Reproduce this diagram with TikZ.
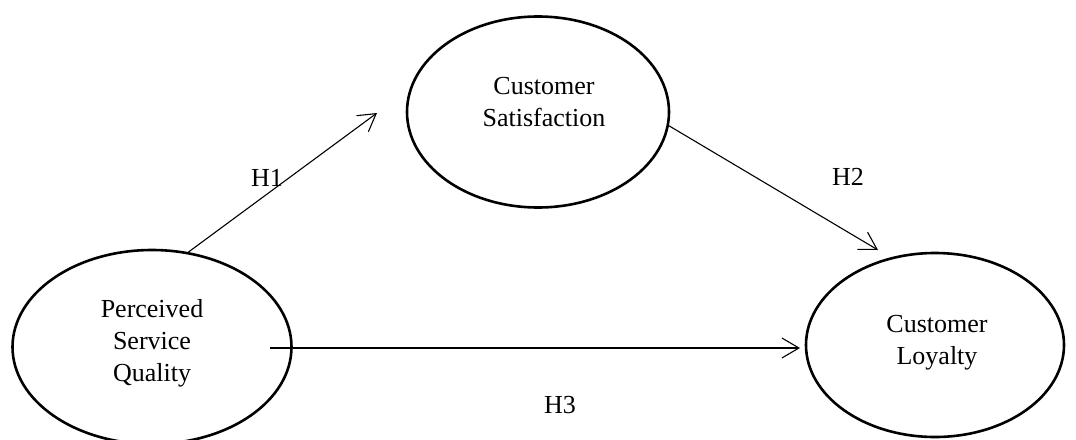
\documentclass[tikz,border=0pt]{standalone}
\usepackage{fontspec}
\setmainfont{Liberation Serif}
\usetikzlibrary{shapes.geometric, arrows.meta}
\tikzset{
  construct/.style={draw, ellipse, line width=2.6pt, inner sep=0pt},
  caption/.style={align=center, font=\fontsize{26}{32}\selectfont},
  path/.style={line width=1.1pt, -{Straight Barb[length=17pt, width=20pt, line width=1.1pt]}},
  hyp/.style={font=\fontsize{26}{30}\selectfont}
}

\begin{document}
\begin{tikzpicture}[x=1pt, y=-1pt]
				\useasboundingbox (0,0) rectangle (1076,439);
				\begin{scope}
					\clip (0,0) rectangle (1076,439);

					\node[construct, minimum width=279pt, minimum height=194pt] (psq) at (152,347) {};
					\node[construct, minimum width=262pt, minimum height=191pt] (cs) at (538,112) {};
					\node[construct, minimum width=258pt, minimum height=184pt] (cl) at (935,345) {};

					\node[caption] (psqtext) at (152,343) {Perceived\\Service\\Quality};
					\node[caption] (cstext) at (544,102) {Customer\\Satisfaction};
					\node[caption] (cltext) at (937,343) {Customer\\Loyalty};

					\coordinate (h1end) at (377,113);
					\coordinate (h2end) at (878,250);
					\coordinate (h3start) at (270,348);
					\coordinate (h3end) at (800,348);

					\draw[path] (psq.69) -- (h1end);
					\draw[path] (cs.-6) -- (h2end);
					\draw[path] (h3start) -- (h3end);

					\node[hyp] (h1) at (267,178) {H1};
					\node[hyp] (h2) at (848,177) {H2};
					\node[hyp] (h3) at (560,405) {H3};
				\end{scope}
			\end{tikzpicture}
\end{document}
